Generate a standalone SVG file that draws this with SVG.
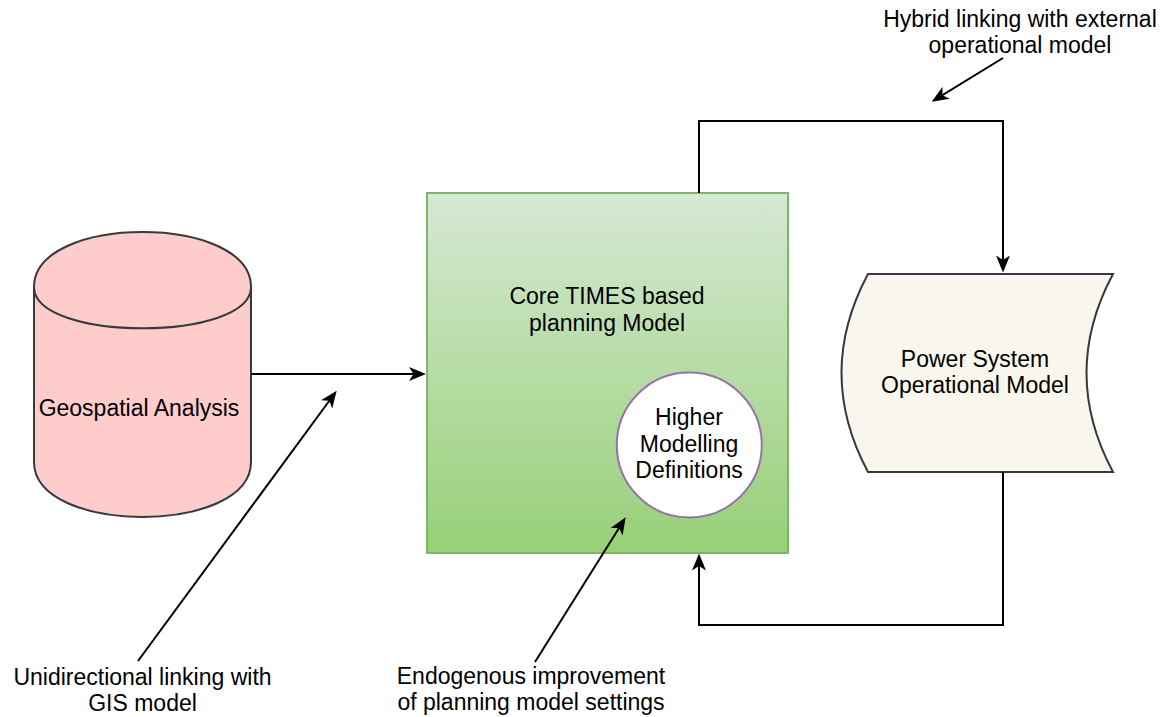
<svg xmlns="http://www.w3.org/2000/svg" width="1167" height="717" viewBox="0 0 1167 717">
<defs>
<linearGradient id="g" x1="0" y1="0" x2="0" y2="1">
<stop offset="0" stop-color="#d5e8d4"/>
<stop offset="1" stop-color="#97d077"/>
</linearGradient>
<marker id="arr" viewBox="-17 -7 17 14" refX="-4" refY="0" markerWidth="17" markerHeight="14" orient="auto" markerUnits="userSpaceOnUse">
<path d="M0,0 L-17,-7 L-12.5,0 L-17,7 Z" fill="#000"/>
</marker>
<style>
text{font-family:"Liberation Sans",Arial,sans-serif;font-size:23px;fill:#000;text-anchor:middle}
.ca{fill:none;stroke:#000;stroke-width:2;marker-end:url(#arr)}
</style>
</defs>
<rect width="1167" height="717" fill="#fff"/>
<g id="geospatial">
<path d="M34,287 C34,213.7 251,213.7 251,287 L251,462 C251,535.3 34,535.3 34,462 Z" fill="#ffcccc" stroke="#36393d" stroke-width="2"/>
<path d="M34,287 C34,342 251,342 251,287" fill="none" stroke="#36393d" stroke-width="2"/>
<text x="139" y="416">Geospatial Analysis</text>
</g>
<g id="core">
<rect x="427" y="193" width="361" height="360" fill="url(#g)" stroke="#82b366" stroke-width="2"/>
<text x="607" y="304">Core TIMES based</text>
<text x="607" y="331">planning Model</text>
</g>
<g id="higher">
<circle cx="689.3" cy="445" r="72.5" fill="#fff" stroke="#9673a6" stroke-width="2"/>
<text x="689" y="425">Higher</text>
<text x="689" y="451.5">Modelling</text>
<text x="689" y="478">Definitions</text>
</g>
<g id="power">
<path d="M868,274 L1113,274 Q1060,373 1113,472 L868,472 Q815,373 868,274 Z" fill="#f9f7ed" stroke="#36393d" stroke-width="2"/>
<text x="975" y="366.5">Power System</text>
<text x="975" y="393">Operational Model</text>
</g>
<g id="label-hybrid">
<text x="1020" y="27">Hybrid linking with external</text>
<text x="1020" y="53">operational model</text>
</g>
<g id="label-gis">
<text x="142.5" y="685">Unidirectional linking with</text>
<text x="142.5" y="711">GIS model</text>
</g>
<g id="label-endo">
<text x="531" y="684">Endogenous improvement</text>
<text x="531" y="710">of planning model settings</text>
</g>
<g id="connectors">
<path class="ca" d="M251,374 L422,374"/>
<path class="ca" d="M699,193 L699,121 L1003,121 L1003,268.5"/>
<path class="ca" d="M1003,472 L1003,625 L699,625 L699,557.5"/>
<path class="ca" d="M138,661 L334.3,394"/>
<path class="ca" d="M535,662 L623.6,520.7"/>
<path class="ca" d="M1003,58 L935.1,99.6"/>
</g>
</svg>
